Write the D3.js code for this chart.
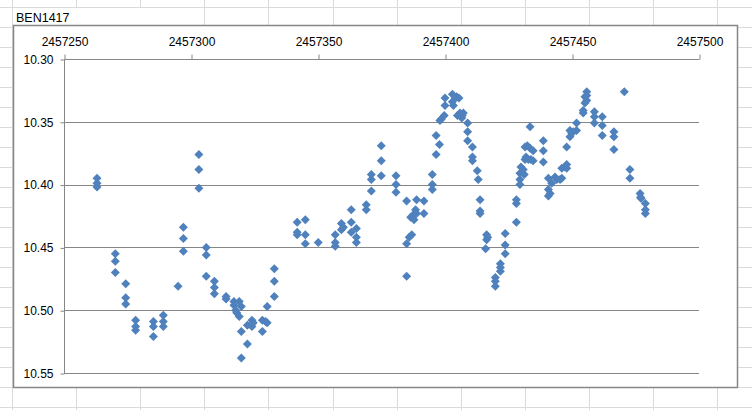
<!DOCTYPE html>
<html>
<head>
<meta charset="utf-8">
<script src="https://cdn.jsdelivr.net/npm/d3@7"></script>
<style>
html,body{margin:0;padding:0;background:#fff;}
svg{display:block;font-family:"Liberation Sans",Arial,sans-serif;}
</style>
</head>
<body>
<svg id="c" width="752" height="410"></svg>
<script>
const title = "BEN1417";
const jd = [
2457263.0,2457263.0,2457263.0,2457270.2,2457270.2,2457270.2,2457274.3,2457274.3,2457274.3,2457278.2,
2457278.2,2457278.2,2457285.2,2457285.2,2457285.2,2457289.1,2457289.1,2457289.1,2457294.9,2457297.0,
2457297.0,2457297.0,2457303.1,2457303.1,2457303.1,2457306.0,2457306.0,2457306.0,2457309.2,2457309.2,
2457309.2,2457313.8,2457313.8,2457316.9,2457316.9,2457317.6,2457318.0,2457319.0,2457319.0,2457319.8,
2457319.8,2457322.2,2457319.8,2457322.2,2457324.0,2457324.0,2457324.5,2457328.1,2457328.1,2457329.3,
2457330.0,2457330.0,2457332.8,2457332.8,2457332.8,2457341.8,2457341.8,2457341.8,2457345.0,2457345.0,
2457345.0,2457350.1,2457356.8,2457356.8,2457356.8,2457359.2,2457359.2,2457360.0,2457363.1,2457363.1,
2457363.1,2457365.1,2457365.1,2457365.1,2457369.0,2457369.0,2457371.0,2457371.0,2457371.0,2457374.9,
2457374.9,2457374.9,2457380.7,2457380.7,2457380.7,2457384.9,2457384.9,2457384.9,2457385.9,2457386.9,
2457386.5,2457387.5,2457388.4,2457387.8,2457388.8,2457388.8,2457391.7,2457391.7,2457395.0,2457395.0,
2457395.0,2457396.5,2457397.8,2457396.5,2457398.0,2457398.5,2457399.7,2457400.0,2457400.0,2457402.9,
2457402.9,2457404.0,2457404.6,2457405.5,2457403.3,2457404.9,2457405.9,2457406.8,2457406.6,2457407.2,
2457408.9,2457408.9,2457408.9,2457410.8,2457410.8,2457410.8,2457412.7,2457413.1,2457413.8,2457413.8,
2457413.8,2457416.4,2457416.4,2457416.0,2457416.8,2457419.8,2457419.8,2457419.8,2457421.8,2457421.8,
2457421.8,2457423.7,2457423.7,2457423.7,2457428.1,2457428.1,2457428.1,2457429.5,2457429.5,2457429.5,
2457429.9,2457430.8,2457431.2,2457431.5,2457431.9,2457432.8,2457433.8,2457434.7,2457431.5,2457432.4,
2457433.5,2457434.7,2457433.5,2457438.7,2457438.7,2457438.7,2457440.7,2457440.7,2457440.7,2457441.4,
2457442.0,2457443.3,2457444.0,2457445.3,2457446.0,2457446.0,2457447.2,2457447.9,2457447.9,2457447.9,
2457449.2,2457449.2,2457449.9,2457450.5,2457451.8,2457451.8,2457454.4,2457454.4,2457455.1,2457455.1,
2457455.8,2457455.8,2457455.8,2457458.8,2457458.8,2457458.8,2457461.9,2457461.9,2457461.9,2457466.5,
2457466.5,2457466.5,2457470.6,2457472.8,2457472.8,2457476.8,2457477.0,2457477.2,2457478.9,2457478.9,
2457478.9
];
const mag = [
10.395,10.399,10.402,10.455,10.461,10.470,10.479,10.490,10.495,10.508,
10.513,10.516,10.509,10.513,10.521,10.504,10.509,10.513,10.481,10.434,
10.443,10.453,10.376,10.388,10.403,10.450,10.456,10.473,10.477,10.482,
10.487,10.489,10.491,10.493,10.496,10.500,10.502,10.493,10.505,10.497,
10.517,10.527,10.538,10.512,10.508,10.513,10.510,10.508,10.517,10.509,
10.510,10.497,10.467,10.477,10.489,10.430,10.438,10.440,10.428,10.440,
10.447,10.446,10.440,10.446,10.449,10.431,10.436,10.434,10.420,10.430,
10.438,10.435,10.442,10.446,10.416,10.420,10.392,10.396,10.405,10.369,
10.381,10.393,10.393,10.400,10.406,10.413,10.447,10.473,10.442,10.440,
10.426,10.424,10.420,10.428,10.423,10.412,10.413,10.423,10.392,10.400,
10.404,10.361,10.368,10.376,10.349,10.348,10.345,10.331,10.337,10.328,
10.334,10.331,10.330,10.331,10.337,10.345,10.343,10.345,10.347,10.343,
10.351,10.358,10.365,10.370,10.378,10.381,10.389,10.396,10.412,10.421,
10.423,10.440,10.444,10.451,10.442,10.474,10.477,10.481,10.463,10.466,
10.469,10.439,10.448,10.455,10.430,10.412,10.415,10.396,10.400,10.391,
10.386,10.388,10.392,10.380,10.378,10.380,10.380,10.381,10.370,10.369,
10.371,10.373,10.354,10.365,10.373,10.382,10.395,10.404,10.409,10.407,
10.399,10.394,10.396,10.396,10.395,10.387,10.386,10.384,10.387,10.370,
10.357,10.362,10.359,10.358,10.357,10.351,10.341,10.343,10.335,10.330,
10.326,10.329,10.333,10.342,10.346,10.351,10.346,10.353,10.361,10.358,
10.362,10.372,10.326,10.388,10.395,10.407,10.410,10.411,10.415,10.420,
10.423
];
const xTicks = [2457250,2457300,2457350,2457400,2457450,2457500];
const yTicks = [10.30,10.35,10.40,10.45,10.50,10.55];

const svg = d3.select("#c");
const W = 752, H = 410;

// spreadsheet background grid
const colX = d3.range(12, W, 64.1);
const rowY = d3.range(7, H, 20);
const bg = svg.append("g");
bg.selectAll("line.v").data(colX).enter().append("line")
  .attr("x1", d => Math.round(d) + 0.5).attr("x2", d => Math.round(d) + 0.5)
  .attr("y1", 0).attr("y2", H).attr("stroke", "#dadada");
bg.selectAll("line.h").data(rowY).enter().append("line")
  .attr("y1", d => d + 0.5).attr("y2", d => d + 0.5)
  .attr("x1", 0).attr("x2", W).attr("stroke", "#dadada");

// cell title
svg.append("rect").attr("x", 13).attr("y", 8).attr("width", 190).attr("height", 18).attr("fill", "#fff");
svg.append("text").attr("x", 16).attr("y", 21.5).attr("font-size", "12.5px").attr("fill", "#000").text(title);

// chart frame
svg.append("rect").attr("x", 13.5).attr("y", 25.5).attr("width", 724).attr("height", 362)
  .attr("fill", "#fff").attr("stroke", "#868686").attr("stroke-width", 1.5);

const x = d3.scaleLinear().domain([2457250, 2457500]).range([64, 699]);
const y = d3.scaleLinear().domain([10.30, 10.55]).range([59, 373]);

// gridlines
svg.append("g").selectAll("line").data(yTicks.slice(1)).enter().append("line")
  .attr("x1", x.range()[0]).attr("x2", x.range()[1])
  .attr("y1", d => Math.round(y(d)) + 0.5).attr("y2", d => Math.round(y(d)) + 0.5)
  .attr("stroke", "#868686").attr("stroke-width", 1);

const xAxis = svg.append("g").attr("transform", "translate(0.5,59.5)")
  .call(d3.axisTop(x).tickValues(xTicks).tickSize(5).tickPadding(9).tickFormat(d3.format("d")));
const yAxis = svg.append("g").attr("transform", "translate(64.5,0.5)")
  .call(d3.axisLeft(y).tickValues(yTicks).tickSize(4).tickPadding(7).tickFormat(d3.format(".2f")));
[xAxis, yAxis].forEach(a => {
  a.select(".domain").attr("stroke", "#868686").attr("d", null);
  a.selectAll(".tick line").attr("stroke", "#868686");
  a.selectAll(".tick text").attr("fill", "#000").attr("font-size", "12px")
    .attr("font-family", "'Liberation Sans',Arial,sans-serif");
});
xAxis.select(".domain").attr("d", `M${x.range()[0]},0H${x.range()[1]}`);
yAxis.select(".domain").attr("d", `M0,${y.range()[0]}V${y.range()[1]}`);

// markers
const r = 4.5;
const diamond = `M0,${-r}L${r},0L0,${r}L${-r},0Z`;
svg.append("g").selectAll("path").data(jd.map((d, i) => [d, mag[i]])).enter().append("path")
  .attr("d", diamond)
  .attr("transform", d => `translate(${x(d[0])},${y(d[1])})`)
  .attr("fill", "#4F81BD");
</script>
</body>
</html>
